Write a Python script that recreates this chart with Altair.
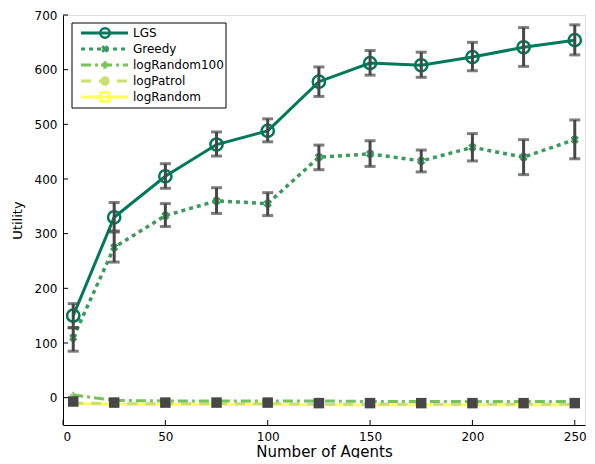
import altair as alt
import pandas as pd

agents = [5, 25, 50, 75, 100, 125, 150, 175, 200, 225, 250]
lgs = [150, 330, 405, 463, 488, 578, 612, 608, 623, 641, 654]
lgs_lo = [128, 305, 383, 442, 468, 551, 590, 586, 598, 606, 627]
lgs_hi = [172, 357, 428, 486, 510, 605, 635, 632, 650, 677, 682]
greedy = [110, 275, 333, 360, 355, 440, 446, 433, 458, 440, 472]
greedy_lo = [85, 248, 313, 337, 333, 417, 423, 413, 433, 408, 437]
greedy_hi = [128, 303, 355, 384, 375, 462, 470, 453, 483, 472, 508]
log_random100 = [5, -5, -6, -6, -6, -6, -7, -7, -7, -7, -7]
log_patrol = [-10, -11, -11, -11, -11, -12, -12, -12, -12, -12, -12]
log_random = [-11, -12, -12, -12, -12, -13, -13, -13, -13, -13, -13]
log_random_marker = [-7, -9, -9, -9, -9, -10, -10, -10, -10, -10, -10]
x_ticks = [0, 50, 100, 150, 200, 250]
y_ticks = [0, 100, 200, 300, 400, 500, 600, 700]
legend_labels = ["LGS", "Greedy", "logRandom100", "logPatrol", "logRandom"]

FONT = "DejaVu Sans"
GRAY = "#474747"

xs = alt.Scale(domain=[0, 255], nice=False, zero=False)
ys = alt.Scale(domain=[-50, 700], nice=False, zero=False)

df = pd.DataFrame({
    "x": agents, "lgs": lgs, "lgs_lo": lgs_lo, "lgs_hi": lgs_hi,
    "greedy": greedy, "greedy_lo": greedy_lo, "greedy_hi": greedy_hi,
    "lr100": log_random100, "lp": log_patrol, "lr": log_random,
    "lrm": log_random_marker,
})

base = alt.Chart(df)

X = alt.X("x:Q", scale=xs,
          axis=alt.Axis(values=x_ticks, title="Number of Agents", grid=False,
                        tickSize=0, labelPadding=6, titlePadding=2,
                        domainColor="black", labelColor="black", titleColor="black",
                        labelFont=FONT, titleFont=FONT, labelFontSize=12,
                        titleFontSize=15, titleFontWeight="normal"))


def Y(field):
    return alt.Y(f"{field}:Q", scale=ys,
                 axis=alt.Axis(values=y_ticks, title="Utility", grid=False,
                               tickSize=0, labelPadding=6, titlePadding=10,
                               domainColor="black", labelColor="black", titleColor="black",
                               labelFont=FONT, titleFont=FONT, labelFontSize=12,
                               titleFontSize=13, titleFontWeight="normal"))


layers = []
# low series lines
layers.append(base.mark_line(color="#FFFF55", strokeWidth=3).encode(x=X, y=Y("lr")))
layers.append(base.mark_line(color="#C8E070", strokeWidth=3, strokeDash=[10, 8]).encode(x=X, y=Y("lp")))
layers.append(base.mark_line(color="#78C25A", strokeWidth=3, strokeDash=[10, 4, 3, 4]).encode(x=X, y=Y("lr100")))
layers.append(base.mark_point(shape="cross", filled=True, color="#78C25A", size=40).encode(x=X, y=Y("lr100")))
layers.append(base.mark_point(shape="square", filled=True, color=GRAY, size=110, opacity=1).encode(x=X, y=Y("lrm")))
# greedy
layers.append(base.mark_line(color="#3B9B5E", strokeWidth=3.5, strokeDash=[4, 4]).encode(x=X, y=Y("greedy")))
layers.append(base.mark_point(shape="cross", angle=45, filled=True, color="#3B9B5E", size=70, opacity=1).encode(x=X, y=Y("greedy")))
# LGS
layers.append(base.mark_line(color="#00785A", strokeWidth=3).encode(x=X, y=Y("lgs")))
layers.append(base.mark_point(shape="circle", filled=False, color="#00785A", size=150, strokeWidth=2.5, opacity=1).encode(x=X, y=Y("lgs")))
# error bars
for lo, hi in (("greedy_lo", "greedy_hi"), ("lgs_lo", "lgs_hi")):
    layers.append(base.mark_rule(color=GRAY, strokeWidth=3).encode(x=X, y=Y(lo), y2=f"{hi}:Q"))
    layers.append(base.mark_tick(color=GRAY, thickness=3, size=11, orient="horizontal").encode(x=X, y=Y(lo)))
    layers.append(base.mark_tick(color=GRAY, thickness=3, size=11, orient="horizontal").encode(x=X, y=Y(hi)))

# inward ticks
xt = alt.Chart(pd.DataFrame({"t": x_ticks})).mark_rule(color="black", strokeWidth=1).encode(
    x=alt.X("t:Q", scale=xs), y=alt.value(410), y2=alt.value(405))
yt = alt.Chart(pd.DataFrame({"t": y_ticks})).mark_rule(color="black", strokeWidth=1).encode(
    y=alt.Y("t:Q", scale=ys), x=alt.value(0), x2=alt.value(5))
layers += [xt, yt]

# legend box
layers.append(alt.Chart(pd.DataFrame({"a": [0]})).mark_rect(fill="white", stroke="black", strokeWidth=1).encode(
    x=alt.value(9), x2=alt.value(163), y=alt.value(8), y2=alt.value(93)))

leg_styles = [
    dict(color="#00785A", dash=None, shape="circle", filled=False, size=90, angle=0),
    dict(color="#3B9B5E", dash=[4, 4], shape="cross", filled=True, size=60, angle=45),
    dict(color="#78C25A", dash=[10, 4, 3, 4], shape="cross", filled=True, size=60, angle=0),
    dict(color="#C8E070", dash=[10, 8], shape="circle", filled=True, size=90, angle=0),
    dict(color="#FFFF55", dash=None, shape="square", filled=False, size=80, angle=0),
]
for i, (lab, st) in enumerate(zip(legend_labels, leg_styles)):
    yy = 18 + i * 16
    one = alt.Chart(pd.DataFrame({"label": [lab]}))
    kw = dict(color=st["color"], strokeWidth=3)
    if st["dash"]:
        kw["strokeDash"] = st["dash"]
    layers.append(one.mark_rule(**kw).encode(x=alt.value(18), x2=alt.value(65), y=alt.value(yy)))
    pk = dict(shape=st["shape"], filled=st["filled"], color=st["color"], size=st["size"], opacity=1,
              angle=st["angle"])
    if not st["filled"]:
        pk["strokeWidth"] = 2.5
    layers.append(one.mark_point(**pk).encode(x=alt.value(42), y=alt.value(yy)))
    layers.append(one.mark_text(align="left", baseline="middle", font=FONT, fontSize=12, color="black").encode(
        x=alt.value(70), y=alt.value(yy), text="label:N"))

chart = alt.layer(*layers).properties(
    width=522, height=410,
    autosize=alt.AutoSizeParams(type="none"),
    padding={"left": 55, "top": 7, "right": 2, "bottom": 33},
).configure_view(stroke=None).configure(background="white")

chart.save("out.html", embed_options={"renderer": "svg", "actions": False})
